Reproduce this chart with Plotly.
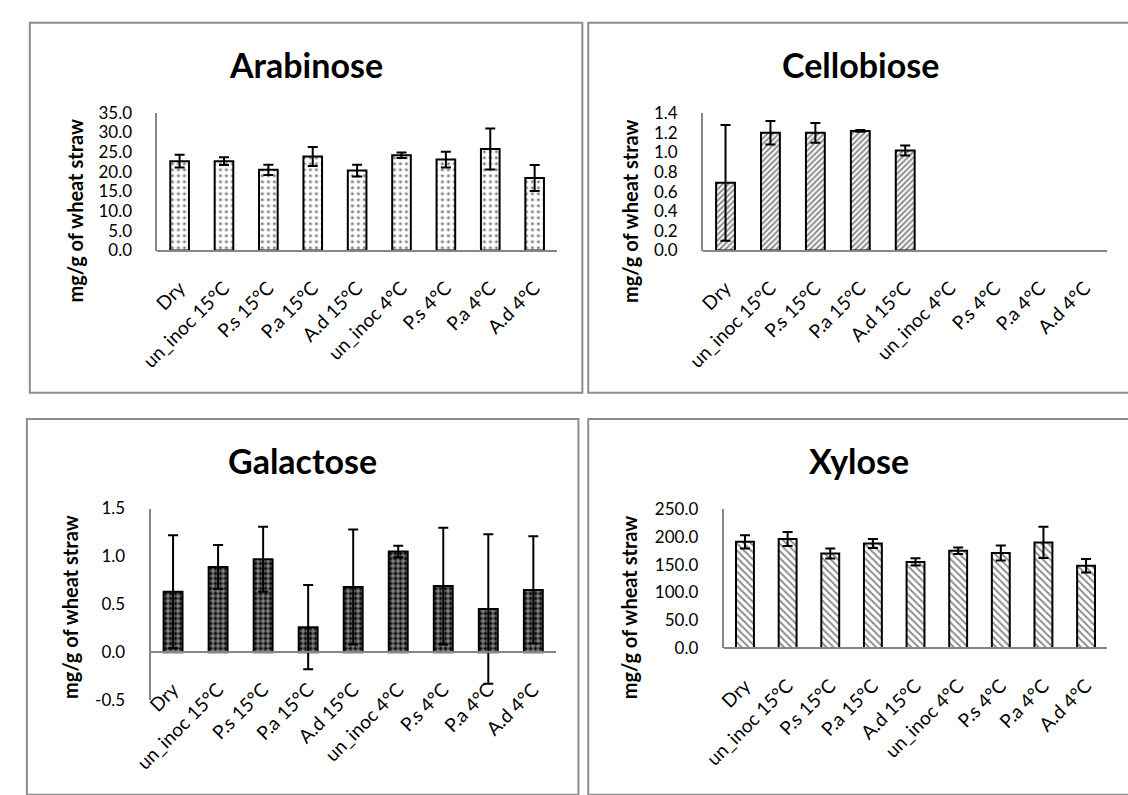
import plotly.graph_objects as go

W, H = 1128, 795

categories = ["Dry", "un_inoc 15°C", "P.s 15°C", "P.a 15°C", "A.d 15°C",
              "un_inoc 4°C", "P.s 4°C", "P.a 4°C", "A.d 4°C"]

arabinose = [22.7, 22.7, 20.5, 23.9, 20.3, 24.2, 23.1, 25.8, 18.4]
arabinose_err = [1.6, 1.0, 1.3, 2.4, 1.5, 0.7, 2.0, 5.2, 3.3]
arabinose_ticks = [0, 5, 10, 15, 20, 25, 30, 35]
arabinose_ticktext = ["0.0", "5.0", "10.0", "15.0", "20.0", "25.0", "30.0", "35.0"]

cellobiose = [0.69, 1.20, 1.20, 1.22, 1.02, None, None, None, None]
cellobiose_err = [0.59, 0.12, 0.10, 0.01, 0.05, None, None, None, None]
cellobiose_ticks = [0, 0.2, 0.4, 0.6, 0.8, 1.0, 1.2, 1.4]
cellobiose_ticktext = ["0.0", "0.2", "0.4", "0.6", "0.8", "1.0", "1.2", "1.4"]

galactose = [0.63, 0.89, 0.97, 0.26, 0.68, 1.05, 0.69, 0.45, 0.65]
galactose_err = [0.59, 0.23, 0.34, 0.44, 0.60, 0.06, 0.61, 0.78, 0.56]
galactose_ticks = [-0.5, 0, 0.5, 1.0, 1.5]
galactose_ticktext = ["-0.5", "0.0", "0.5", "1.0", "1.5"]

xylose = [191, 196, 170, 188, 155, 175, 171, 190, 148]
xylose_err = [12, 12.5, 9, 8, 6.5, 6, 13.5, 28, 12]
xylose_ticks = [0, 50, 100, 150, 200, 250]
xylose_ticktext = ["0.0", "50.0", "100.0", "150.0", "200.0", "250.0"]

FONT = "Lato"
AXIS_GREY = "#868686"
TICK_SIZE = 17


def px_x(p):
    return p / W


def px_y(p):
    return 1 - p / H


# name, values, errors, y-range, ticks, plot box (left, right, top, bottom px),
# title centre, axis-title centre, bar fill pattern
panels = [
    dict(name="Arabinose", y=arabinose, err=arabinose_err, rng=[0, 35],
         tv=arabinose_ticks, tt=arabinose_ticktext,
         box=(139, 546, 104.5, 246), title=(290, 55), ytitle=(55, 205),
         pattern=dict(shape=".", fgcolor="black", bgcolor="white", size=6, solidity=0.22)),
    dict(name="Cellobiose", y=cellobiose, err=cellobiose_err, rng=[0, 1.4],
         tv=cellobiose_ticks, tt=cellobiose_ticktext,
         box=(695, 1107, 105, 246), title=(855, 55), ytitle=(620, 205),
         pattern=dict(shape="/", fgcolor="#1a1a1a", bgcolor="white", size=4, solidity=0.5)),
    dict(name="Galactose", y=galactose, err=galactose_err, rng=[-0.5, 1.5],
         tv=galactose_ticks, tt=galactose_ticktext,
         box=(132, 545, 511, 707.7), title=(287, 462), ytitle=(50, 612),
         pattern=dict(shape=".", fgcolor="white", bgcolor="black", size=5, solidity=0.6)),
    dict(name="Xylose", y=xylose, err=xylose_err, rng=[0, 250],
         tv=xylose_ticks, tt=xylose_ticktext,
         box=(716, 1107, 511.5, 654.5), title=(854, 462), ytitle=(619, 612),
         pattern=dict(shape="\\", fgcolor="#1a1a1a", bgcolor="white", size=5, solidity=0.4)),
]

fig = go.Figure()
layout = dict(
    width=W, height=H, margin=dict(l=0, r=0, t=0, b=0),
    paper_bgcolor="white", plot_bgcolor="white",
    showlegend=False, font=dict(family=FONT, color="black"),
    annotations=[], shapes=[],
)

for i, p in enumerate(panels, start=1):
    xa = "x" if i == 1 else f"x{i}"
    ya = "y" if i == 1 else f"y{i}"
    left, right, top, bottom = p["box"]
    fig.add_trace(go.Bar(
        x=categories, y=p["y"], xaxis=xa, yaxis=ya, width=0.42,
        marker=dict(color="white", line=dict(color="black", width=2),
                    pattern=p["pattern"]),
        error_y=dict(type="data", array=p["err"], visible=True,
                     color="black", thickness=2, width=5),
        hoverinfo="x+y",
    ))
    y0 = px_y(bottom)
    y1 = px_y(top)
    # category axis sits on the zero line of the value scale
    lo, hi = p["rng"]
    zero_frac = (0 - lo) / (hi - lo)
    xpos = y0 + zero_frac * (y1 - y0)
    xaxis = dict(
        domain=[px_x(left), px_x(right)], anchor="free", position=xpos,
        showline=True, linecolor=AXIS_GREY, linewidth=2, showgrid=False,
        zeroline=False, ticks="", tickangle=-45, ticklabelstandoff=18,
        tickfont=dict(family=FONT, size=19, color="black"),
        categoryorder="array", categoryarray=categories, fixedrange=True,
    )
    yaxis = dict(
        domain=[y0, y1], anchor=xa, range=p["rng"],
        tickmode="array", tickvals=p["tv"], ticktext=p["tt"],
        showline=True, linecolor=AXIS_GREY,
        linewidth=2, showgrid=False, zeroline=False, ticks="",
        ticklabelstandoff=20,
        tickfont=dict(family=FONT, size=TICK_SIZE, color="black"), fixedrange=True,
    )
    layout["xaxis" if i == 1 else f"xaxis{i}"] = xaxis
    layout["yaxis" if i == 1 else f"yaxis{i}"] = yaxis

    tx, ty = p["title"]
    layout["annotations"].append(dict(
        text=f"<b>{p['name']}</b>", x=px_x(tx), y=px_y(ty), xref="paper",
        yref="paper", showarrow=False, xanchor="center", yanchor="middle",
        font=dict(family=FONT, size=34, color="black"),
    ))
    ax, ay = p["ytitle"]
    layout["annotations"].append(dict(
        text="<b>mg/g of wheat straw</b>", x=px_x(ax), y=px_y(ay), xref="paper",
        yref="paper", showarrow=False, xanchor="center", yanchor="middle",
        textangle=-90, font=dict(family=FONT, size=20, color="black"),
    ))

# chart-area frames around each of the four charts
frames = [(9, 572, 12, 392), (578, 1140, 12, 392),
          (6, 568, 419, 805), (578, 1140, 419, 805)]
for x0, x1, t, b in frames:
    layout["shapes"].append(dict(
        type="rect", xref="paper", yref="paper",
        x0=px_x(x0), x1=px_x(x1), y0=px_y(b), y1=px_y(t),
        line=dict(color="#8c8c8c", width=2), fillcolor="rgba(0,0,0,0)",
        layer="below",
    ))

fig.update_layout(**layout)
fig.write_html(
    "out.html",
    post_script="document.body.style.margin='0';document.body.style.overflow='hidden';",
)
